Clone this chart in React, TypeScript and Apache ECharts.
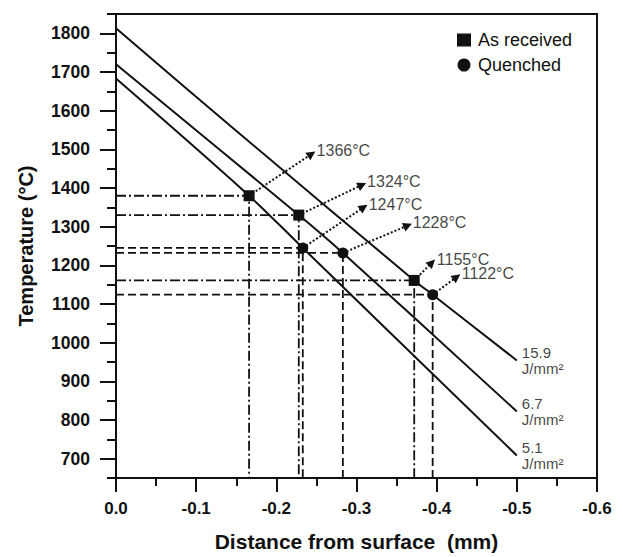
import React, { useEffect, useRef } from 'react';
import * as echarts from 'echarts';

const FONT = 'Liberation Sans';
const INK = '#111111';

// axes
const xMin = -0.6;
const xMax = 0;
const xStep = 0.1;
const yMin = 650;
const yMax = 1850;
const yMajorTicks = [700, 800, 900, 1000, 1100, 1200, 1300, 1400, 1500, 1600, 1700, 1800];
const yMinorTicks = [650, 700, 750, 800, 850, 900, 950, 1000, 1050, 1100, 1150, 1200, 1250, 1300, 1350, 1400, 1450, 1500, 1550, 1600, 1650, 1700, 1750, 1800, 1850];

// temperature profiles (distance mm, temperature °C)
const energyLabels = ['15.9\nJ/mm²', '6.7\nJ/mm²', '5.1\nJ/mm²'];
const line159X = [0, -0.1425, -0.372, -0.395, -0.5];
const line159Y = [1813, 1561, 1161, 1124, 954];
const line67X = [0, -0.228, -0.283, -0.5];
const line67Y = [1720, 1330, 1232, 822];
const line51X = [0, -0.166, -0.233, -0.5];
const line51Y = [1683, 1380, 1245, 708];

// markers
const asReceivedX = [-0.166, -0.228, -0.372];
const asReceivedY = [1380, 1330, 1161];
const asReceivedLabels = ['1366°C', '1324°C', '1155°C'];
const asReceivedArrowX = [-0.244, -0.307, -0.394];
const asReceivedArrowY = [1488, 1408, 1207];

const quenchedX = [-0.233, -0.283, -0.395];
const quenchedY = [1245, 1232, 1124];
const quenchedLabels = ['1247°C', '1228°C', '1122°C'];
const quenchedArrowX = [-0.309, -0.364, -0.425];
const quenchedArrowY = [1350, 1303, 1170];

const DASHED = [8, 4];
const DASHDOT = [10, 3, 2, 3];

export default function App() {
  const ref = useRef<HTMLDivElement>(null);

  useEffect(() => {
    if (!ref.current) return;
    const chart = echarts.init(ref.current, null, { renderer: 'svg' });

    const lines = [
      { name: energyLabels[0], xs: line159X, ys: line159Y },
      { name: energyLabels[1], xs: line67X, ys: line67Y },
      { name: energyLabels[2], xs: line51X, ys: line51Y },
    ];

    const refSeries: any[] = [];
    asReceivedX.forEach((x, i) => {
      const y = asReceivedY[i];
      refSeries.push({
        type: 'line', silent: true, symbol: 'none', z: 1,
        data: [[0, y], [x, y], [x, yMin]],
        lineStyle: { color: INK, width: 1.8, type: DASHDOT },
      });
    });
    quenchedX.forEach((x, i) => {
      const y = quenchedY[i];
      refSeries.push({
        type: 'line', silent: true, symbol: 'none', z: 1,
        data: [[0, y], [x, y], [x, yMin]],
        lineStyle: { color: INK, width: 1.8, type: DASHED },
      });
    });

    const mainSeries = lines.map((l) => ({
      type: 'line', silent: true, symbol: 'none', z: 2, smooth: 0.35,
      data: l.xs.map((x, i) => [x, l.ys[i]]),
      lineStyle: { color: INK, width: 2 },
    }));

    const endLabelSeries = {
      type: 'scatter', silent: true, symbolSize: 0, z: 3,
      data: lines.map((l) => ({
        value: [l.xs[l.xs.length - 1], l.ys[l.ys.length - 1]],
        name: l.name,
      })),
      label: {
        show: true, position: 'right', distance: 5,
        formatter: (p: any) => p.name,
        fontFamily: FONT, fontSize: 15, lineHeight: 15.5, color: INK,
      },
    };

    const arrowData: any[] = [];
    asReceivedX.forEach((x, i) => arrowData.push([{ coord: [x, asReceivedY[i]] }, { coord: [asReceivedArrowX[i], asReceivedArrowY[i]] }]));
    quenchedX.forEach((x, i) => arrowData.push([{ coord: [x, quenchedY[i]] }, { coord: [quenchedArrowX[i], quenchedArrowY[i]] }]));

    const arrowSeries = {
      type: 'line', silent: true, symbol: 'none', data: [], z: 3,
      markLine: {
        silent: true, animation: false,
        symbol: ['none', 'triangle'], symbolSize: 9,
        lineStyle: { color: INK, width: 2, type: [2, 2], opacity: 1 },
        label: { show: false },
        emphasis: { disabled: true },
        data: arrowData,
      },
    };

    const annotationSeries = {
      type: 'scatter', silent: true, symbolSize: 0, z: 3,
      data: [
        ...asReceivedArrowX.map((x, i) => ({ value: [x, asReceivedArrowY[i]], name: asReceivedLabels[i] })),
        ...quenchedArrowX.map((x, i) => ({ value: [x, quenchedArrowY[i]], name: quenchedLabels[i] })),
      ],
      label: {
        show: true, position: 'right', distance: 5, offset: [0, -3],
        formatter: (p: any) => p.name,
        fontFamily: FONT, fontSize: 16, color: INK,
      },
    };

    const markerSeries = [
      {
        name: 'As received', type: 'scatter', symbol: 'rect', symbolSize: 11, z: 5,
        itemStyle: { color: INK, opacity: 1 },
        data: asReceivedX.map((x, i) => [x, asReceivedY[i]]),
      },
      {
        name: 'Quenched', type: 'scatter', symbol: 'circle', symbolSize: 11, z: 5,
        itemStyle: { color: INK, opacity: 1 },
        data: quenchedX.map((x, i) => [x, quenchedY[i]]),
      },
    ];

    const axisFont = { fontFamily: FONT, fontWeight: 'bold' as const, color: INK };

    chart.setOption({
      animation: false,
      backgroundColor: '#fff',
      grid: {
        left: 116, top: 14, width: 481, height: 472,
        show: true, borderColor: INK, borderWidth: 2, backgroundColor: 'transparent',
      },
      legend: {
        orient: 'vertical', left: 457, top: 31, padding: 0,
        itemWidth: 14, itemHeight: 13, itemGap: 7,
        data: [{ name: 'As received', icon: 'rect' }, { name: 'Quenched', icon: 'circle' }],
        itemStyle: { opacity: 1 },
        textStyle: { fontFamily: FONT, fontSize: 18, color: INK, padding: [0, 0, 0, 2] },
        selectedMode: false,
      },
      xAxis: {
        type: 'value', min: xMin, max: xMax, interval: xStep, inverse: true,
        name: 'Distance from surface  (mm)', nameLocation: 'middle', nameGap: 53,
        nameTextStyle: { ...axisFont, fontSize: 21 },
        axisLine: { show: true, onZero: false, lineStyle: { color: INK, width: 2 } },
        axisTick: { show: true, inside: false, length: 14, lineStyle: { color: INK, width: 2 } },
        minorTick: { show: true, splitNumber: 2, length: 8, lineStyle: { color: INK, width: 2 } },
        splitLine: { show: false },
        axisLabel: { ...axisFont, fontSize: 17, margin: 22, formatter: (v: number) => v.toFixed(1) },
      },
      yAxis: [
        {
          type: 'value', min: yMin, max: yMax, interval: 50,
          name: 'Temperature (°C)', nameLocation: 'middle', nameGap: 80,
          nameTextStyle: { ...axisFont, fontSize: 20 },
          axisLine: { show: true, onZero: false, lineStyle: { color: INK, width: 2 } },
          axisTick: { show: true, inside: false, length: 16, customValues: yMajorTicks, lineStyle: { color: INK, width: 2 } },
          splitLine: { show: false },
          axisLabel: {
            ...axisFont, fontSize: 17.5, margin: 26, customValues: yMajorTicks,
            formatter: (v: number) => (v % 100 === 0 ? String(v) : ''),
          },
        },
        {
          type: 'value', min: yMin, max: yMax, interval: 50, position: 'left',
          axisLine: { show: false },
          axisTick: { show: true, inside: false, length: 9, customValues: yMinorTicks, lineStyle: { color: INK, width: 2 } },
          axisLabel: { show: false },
          splitLine: { show: false },
        },
      ],
      series: [...refSeries, ...mainSeries, arrowSeries, endLabelSeries, annotationSeries, ...markerSeries],
    });

    return () => chart.dispose();
  }, []);

  return (
    <div
      ref={ref}
      style={{ position: 'fixed', left: 0, top: 0, width: 623, height: 557, background: '#fff' }}
    />
  );
}
